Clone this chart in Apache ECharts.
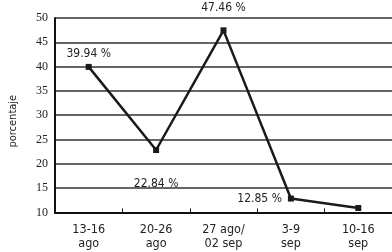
<!DOCTYPE html>
<html>
<head>
<meta charset="utf-8">
<script src="https://cdn.jsdelivr.net/npm/echarts@6/dist/echarts.min.js"></script>
<style>
  html, body { margin: 0; padding: 0; background: #fff; }
  #chart { width: 392px; height: 252px; }
</style>
</head>
<body>
<div id="chart"></div>
<script>
var semanas = ['13-16\nago', '20-26\nago', '27 ago/\n02 sep', '3-9\nsep', '10-16\nsep'];
var porcentajes = [39.94, 22.84, 47.46, 12.85, 10.9];
var etiquetas = ['39.94 %', '22.84 %', '47.46 %', '12.85 %', ''];
var posiciones = ['top', 'bottom', 'top', 'left', 'top'];
var distancias = [4, 25, 13, 6, 5];

var chart = echarts.init(document.getElementById('chart'));
var sans = '"DejaVu Sans Condensed", sans-serif';

var puntos = porcentajes.map(function (v, i) {
    return {
        value: v,
        label: {
            show: etiquetas[i] !== '',
            formatter: etiquetas[i],
            position: posiciones[i],
            distance: distancias[i]
        }
    };
});

chart.setOption({
    animation: false,
    grid: { left: 53, top: 18, width: 344, height: 194.4 },
    xAxis: {
        type: 'category',
        data: semanas,
        boundaryGap: true,
        axisLine: { lineStyle: { color: '#111', width: 2 } },
        axisTick: { show: true, inside: true, length: 4, lineStyle: { color: '#111', width: 1 } },
        axisLabel: { color: '#222', fontFamily: sans, fontSize: 12.5, lineHeight: 14, margin: 10 }
    },
    yAxis: {
        type: 'value',
        min: 10, max: 50, interval: 5,
        name: 'porcentaje',
        nameLocation: 'middle',
        nameRotate: 90,
        nameGap: 36,
        nameTextStyle: { color: '#222', fontFamily: sans, fontSize: 11, padding: [0, 12, 0, 0] },
        axisLine: { show: true, lineStyle: { color: '#111', width: 2 } },
        axisTick: { show: false },
        axisLabel: { color: '#222', fontFamily: 'Liberation Serif', fontSize: 12, margin: 7 },
        splitLine: { lineStyle: { color: '#333', width: 1.5 } }
    },
    series: [{
        type: 'line',
        data: puntos,
        symbol: 'rect',
        symbolSize: 6,
        itemStyle: { color: '#1a1a1a' },
        lineStyle: { color: '#1a1a1a', width: 2.5 },
        label: { color: '#222', fontFamily: sans, fontSize: 12 }
    }]
});
</script>
</body>
</html>
